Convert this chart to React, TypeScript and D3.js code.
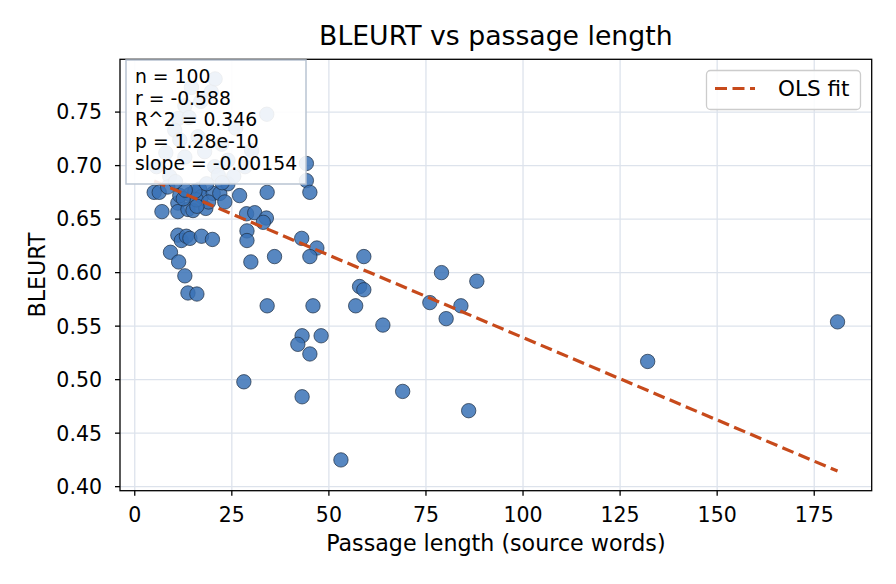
import { scaleLinear, extent, line } from "d3";

const width = 896;
const height = 584;

// passage length (source words) and BLEURT score per item
const lengths = [
  5.0, 6.3, 7.0, 11.1, 11.6, 14.2, 16.7, 17.2, 11.1, 13.7,
  15.0, 18.3, 15.9, 20.2, 21.9, 23.2, 24.0, 34.1, 44.2, 44.2,
  45.1, 28.8, 30.9, 33.9, 33.1, 28.9, 28.9, 11.1, 12.0, 13.3,
  14.2, 17.2, 20.0, 9.2, 11.3, 12.9, 13.7, 16.0, 29.9, 36.0,
  43.0, 46.9, 45.1, 59.0, 57.9, 59.0, 34.1, 45.9, 56.9, 63.9,
  79.0, 88.1, 76.0, 84.0, 80.2, 43.1, 42.0, 48.0, 45.1, 28.1,
  43.1, 69.0, 86.0, 53.1, 132.1, 181.0,
  14.6, 19.7, 20.7, 12.9, 17.0, 11.2, 10.3, 11.6, 16.3, 18.0,
  12.9, 5.6, 20.6, 34.0, 22.4, 30.1, 28.4, 21.5, 24.0, 9.0,
  26.0, 14.0, 8.0, 25.5,
  8.5, 12.5, 15.5, 19.0, 16.0, 13.0, 22.5, 18.5, 10.5, 27.0,
];
const scores = [
  0.675, 0.675, 0.657, 0.665, 0.672, 0.673, 0.678, 0.671, 0.657, 0.659,
  0.658, 0.66, 0.668, 0.674, 0.674, 0.666, 0.683, 0.675, 0.702, 0.686,
  0.675, 0.655, 0.656, 0.651, 0.647, 0.639, 0.63, 0.635, 0.63, 0.634,
  0.632, 0.634, 0.631, 0.619, 0.61, 0.597, 0.581, 0.58, 0.61, 0.615,
  0.632, 0.623, 0.615, 0.615, 0.587, 0.584, 0.569, 0.569, 0.569, 0.551,
  0.6, 0.592, 0.572, 0.569, 0.557, 0.541, 0.533, 0.541, 0.524, 0.498,
  0.484, 0.489, 0.471, 0.425, 0.517, 0.554,
  0.773, 0.769, 0.781, 0.756, 0.76, 0.744, 0.733, 0.724, 0.727, 0.713,
  0.708, 0.699, 0.699, 0.748, 0.72, 0.714, 0.699, 0.691, 0.705, 0.69,
  0.735, 0.745, 0.712, 0.69,
  0.68, 0.669, 0.676, 0.666, 0.662, 0.677, 0.684, 0.683, 0.685, 0.672,
];

const fitSlope = -0.00154;
const fitIntercept = 0.6933;
const statLines = [
  "n = 100",
  "r = -0.588",
  "R^2 = 0.346",
  "p = 1.28e-10",
  "slope = -0.00154",
];
const xTicks = [0, 25, 50, 75, 100, 125, 150, 175];
const yTicks = [0.4, 0.45, 0.5, 0.55, 0.6, 0.65, 0.7, 0.75];

const margin = { top: 59.3, right: 24.3, bottom: 93.3, left: 120 };
const font = "DejaVu Sans, sans-serif";

const pad = (lo: number, hi: number): [number, number] => {
  const m = (hi - lo) * 0.05;
  return [lo - m, hi + m];
};

const App = () => {
  const points = lengths.map((x, i) => ({ x, y: scores[i] }));
  const [x0 = 0, x1 = 1] = extent(lengths);
  const fitEnds = [x0, x1].map((x) => ({ x, y: fitIntercept + fitSlope * x }));
  const [y0 = 0, y1 = 1] = extent([...scores, ...fitEnds.map((d) => d.y)]);

  const xScale = scaleLinear()
    .domain(pad(x0, x1))
    .range([margin.left, width - margin.right]);
  const yScale = scaleLinear()
    .domain(pad(y0, y1))
    .range([height - margin.bottom, margin.top]);

  const fitPath = line<{ x: number; y: number }>()
    .x((d) => xScale(d.x))
    .y((d) => yScale(d.y))(fitEnds);

  const left = margin.left;
  const right = width - margin.right;
  const top = margin.top;
  const bottom = height - margin.bottom;

  return (
    <div>
      <style>{`body{margin:0}`}</style>
      <svg width={width} height={height} style={{ display: "block", fontFamily: font }}>
        <rect width={width} height={height} fill="#ffffff" />
        <text x={(left + right) / 2} y={45} textAnchor="middle" fontSize={26.7} fill="#000">
          BLEURT vs passage length
        </text>

        {/* grid */}
        {xTicks.map((t) => (
          <line key={"gx" + t} x1={xScale(t)} x2={xScale(t)} y1={top} y2={bottom} stroke="#dde3ec" strokeWidth={1.3} />
        ))}
        {yTicks.map((t) => (
          <line key={"gy" + t} x1={left} x2={right} y1={yScale(t)} y2={yScale(t)} stroke="#dde3ec" strokeWidth={1.3} />
        ))}

        {/* points */}
        {points.map((d, i) => (
          <circle
            key={i}
            cx={xScale(d.x)}
            cy={yScale(d.y)}
            r={7.2}
            fill="#3a72b6"
            fillOpacity={0.85}
            stroke="#1c2c40"
            strokeWidth={0.7}
          />
        ))}

        {/* fit line */}
        <path d={fitPath ?? ""} fill="none" stroke="#c74a1b" strokeWidth={3.2} strokeDasharray="12,5.5" />

        {/* spines */}
        <rect x={left} y={top} width={right - left} height={bottom - top} fill="none" stroke="#000" strokeWidth={1.3} />

        {/* x axis */}
        {xTicks.map((t) => (
          <g key={"tx" + t}>
            <line x1={xScale(t)} x2={xScale(t)} y1={bottom} y2={bottom + 5} stroke="#000" strokeWidth={1.3} />
            <text x={xScale(t)} y={522} textAnchor="middle" fontSize={20.5} fill="#000">
              {t}
            </text>
          </g>
        ))}
        <text x={(left + right) / 2} y={551} textAnchor="middle" fontSize={22.2} fill="#000">
          Passage length (source words)
        </text>

        {/* y axis */}
        {yTicks.map((t) => (
          <g key={"ty" + t}>
            <line x1={left - 5} x2={left} y1={yScale(t)} y2={yScale(t)} stroke="#000" strokeWidth={1.3} />
            <text x={102} y={yScale(t)} dy="0.36em" textAnchor="end" fontSize={20.5} fill="#000">
              {t.toFixed(2)}
            </text>
          </g>
        ))}
        <text
          transform={`translate(37,${(top + bottom) / 2}) rotate(-90)`}
          textAnchor="middle"
          dominantBaseline="central"
          fontSize={22.2}
          fill="#000"
        >
          BLEURT
        </text>

        {/* stats box */}
        <rect x={126} y={60} width={180} height={124} fill="#ffffff" fillOpacity={0.9} stroke="#b9c4d2" strokeWidth={1.5} />
        {statLines.map((s, i) => (
          <text key={s} x={135} y={76 + i * 21.8} dy="0.36em" fontSize={18.8} fill="#000">
            {s}
          </text>
        ))}

        {/* legend */}
        <rect x={706.5} y={70.5} width={154} height={39} rx={4} fill="#ffffff" fillOpacity={0.85} stroke="#cccccc" strokeWidth={1.3} />
        <line x1={715} x2={755} y1={88.5} y2={88.5} stroke="#c74a1b" strokeWidth={3.2} strokeDasharray="12,5.5" />
        <text x={778} y={88.5} dy="0.36em" fontSize={21.5} fill="#000">
          OLS fit
        </text>
      </svg>
    </div>
  );
};

export default App;
